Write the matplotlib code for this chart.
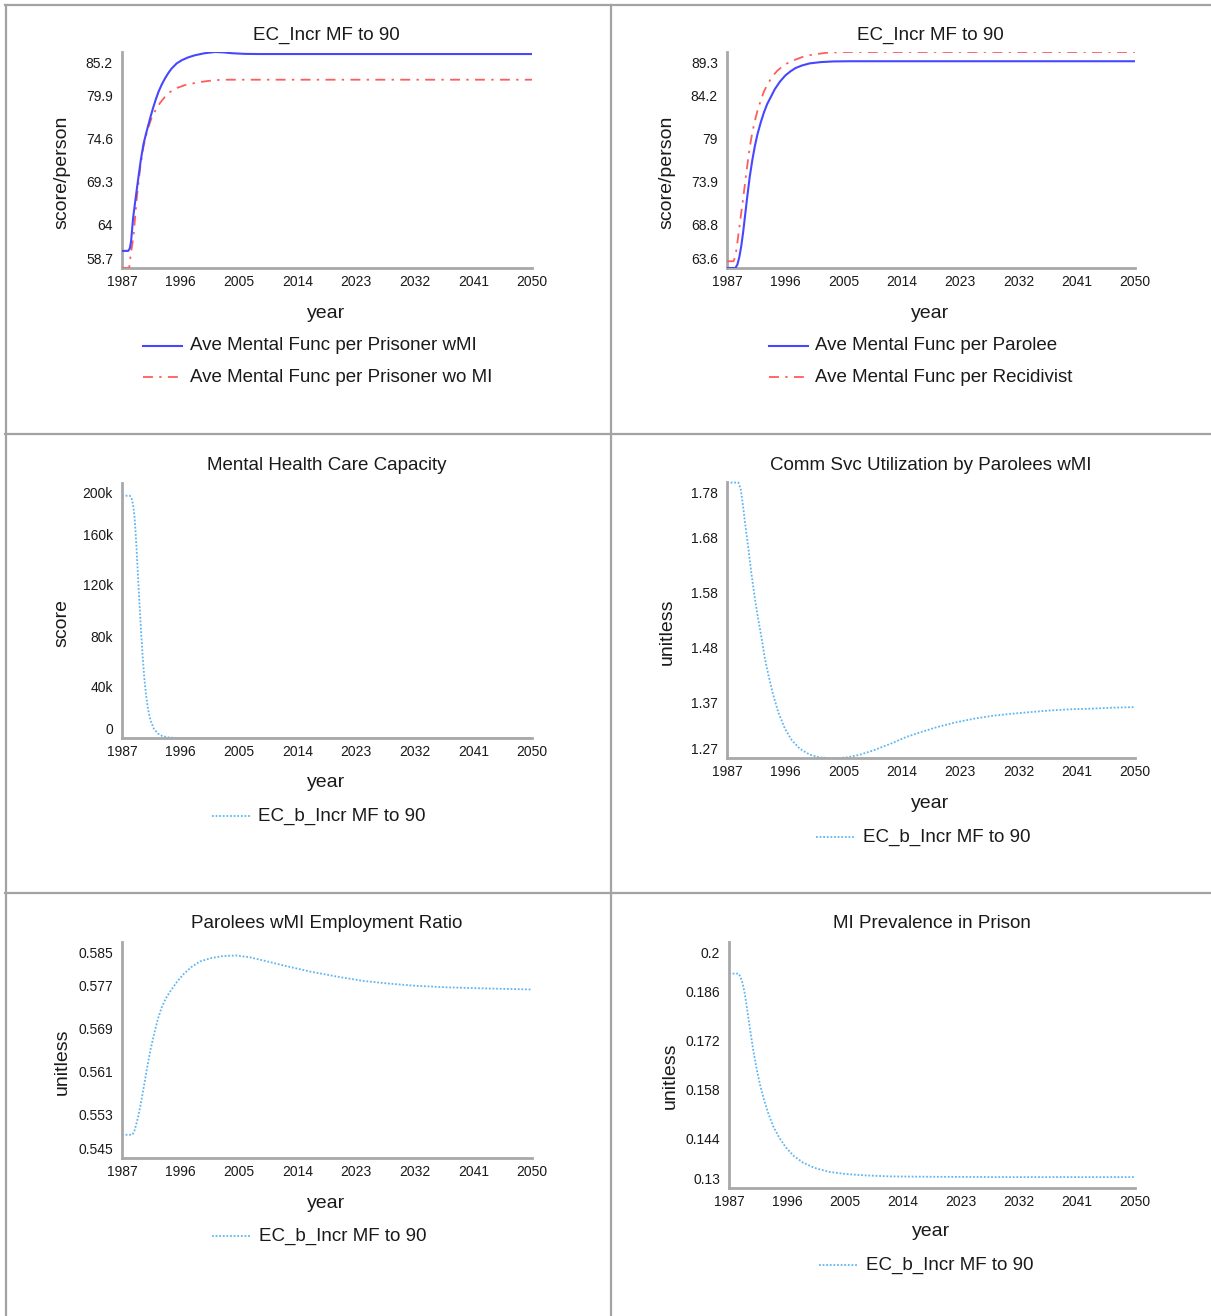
import numpy as np
import matplotlib.pyplot as plt
from matplotlib.lines import Line2D
from matplotlib.transforms import ScaledTranslation

# =============================================================================
# DADOS
# =============================================================================

anos_ticks = [1987, 1996, 2005, 2014, 2023, 2032, 2041, 2050]

# --- Painel 1: prisioneiros ---
anos_pris_wmi = [1987, 1987.95, 1988.2, 1988.4, 1988.7, 1989.1, 1989.5, 1989.9,
                 1990.3, 1990.7, 1991.0, 1991.4, 1991.8, 1992.2, 1992.6, 1993.1,
                 1993.6, 1994.1, 1994.6, 1995.4, 1996.2, 1997.2, 1998.2, 1999.7,
                 2001.3, 2002.6, 2003.9, 2005.9, 2008, 2050]
mf_pris_wmi = [60.8, 60.8, 61.1, 62.0, 64.8, 67.3, 69.7, 72.0, 73.9, 75.2,
               76.1, 77.3, 78.4, 79.4, 80.3, 81.2, 81.95, 82.6, 83.15, 83.8,
               84.2, 84.55, 84.8, 85.05, 85.2, 85.15, 85.05, 84.97, 84.95, 84.95]
anos_pris_womi = [1987, 1988.1, 1988.3, 1988.75, 1989.3, 1989.8, 1990.3, 1990.9,
                  1991.5, 1992.1, 1992.8, 1993.6, 1994.4, 1995.5, 1996.7, 1998.8,
                  2001.3, 2003, 2050]
mf_pris_womi = [58.7, 58.7, 60.1, 62.5, 67.5, 71.0, 73.6, 75.6, 77.0, 78.0,
                78.9, 79.7, 80.3, 80.8, 81.15, 81.5, 81.75, 81.8, 81.8]
yticks_pris = ["58.7", "64", "69.3", "74.6", "79.9", "85.2"]

# --- Painel 2: egressos / reincidentes ---
anos_parolee = [1987, 1988.3, 1988.6, 1988.9, 1989.2, 1989.5, 1989.8, 1990.1,
                1990.5, 1990.9, 1991.3, 1991.7, 1992.2, 1992.7, 1993.2, 1993.8,
                1994.4, 1995.2, 1996.0, 1996.8, 1997.6, 1998.6, 1999.8, 2001.5,
                2003.5, 2006, 2050]
mf_parolee = [63.6, 63.6, 64.0, 64.9, 66.2, 67.9, 69.9, 71.9, 74.4, 76.4, 78.1,
              79.5, 80.9, 82.1, 83.1, 84.0, 84.9, 85.8, 86.5, 87.0, 87.4, 87.7,
              87.95, 88.1, 88.18, 88.2, 88.2]
anos_recid = [1987, 1988.0, 1988.3, 1988.6, 1988.9, 1989.2, 1989.5, 1989.8,
              1990.1, 1990.5, 1990.9, 1991.3, 1991.7, 1992.2, 1992.7, 1993.3,
              1994.0, 1994.8, 1995.6, 1996.6, 1997.6, 1998.8, 2000.3, 2002.3,
              2004.7, 2050]
mf_recid = [64.4, 64.4, 65.0, 66.6, 68.4, 70.2, 71.9, 73.8, 75.6, 77.9, 79.7,
            81.1, 82.3, 83.5, 84.6, 85.5, 86.4, 87.1, 87.6, 88.1, 88.4, 88.75,
            89.0, 89.2, 89.3, 89.3]
yticks_parolee = ["63.6", "68.8", "73.9", "79", "84.2", "89.3"]

# --- Painel 3: capacidade de cuidados em saúde mental ---
anos_capac = [1987, 1988.2, 1988.45, 1988.7, 1988.95, 1989.2, 1989.45, 1989.7,
              1989.95, 1990.2, 1990.45, 1990.7, 1991.0, 1991.4, 1991.9, 1992.5,
              1993.2, 1994.2, 1995.5, 2050]
capacidade = [190000, 190000, 188500, 183000, 172000, 152000, 128000, 104000,
              82000, 62000, 46000, 33500, 22500, 13500, 7200, 3600, 1500, 400,
              0, 0]
yticks_capac = ["0", "40k", "80k", "120k", "160k", "200k"]

# --- Painel 4: utilização de serviços comunitários ---
anos_comm = [1987, 1988.75, 1989.1, 1989.4, 1989.77, 1990.3, 1990.8, 1991.3,
             1991.8, 1992.35, 1992.85, 1993.4, 1994.15, 1994.9, 1995.95, 1997.0,
             1998.25, 1999.8, 2001.35, 2003.4, 2005.45, 2007.5, 2009.6, 2012.6,
             2014.7, 2017, 2019.4, 2022, 2025.3, 2028, 2031.2, 2034, 2037.1,
             2040, 2043.0, 2046.5, 2050]
comm_svc = [1.779, 1.779, 1.768, 1.743, 1.706, 1.657, 1.608, 1.565, 1.528,
            1.491, 1.454, 1.423, 1.386, 1.355, 1.324, 1.303, 1.287, 1.276,
            1.271, 1.2695, 1.271, 1.276, 1.284, 1.298, 1.309, 1.318, 1.327,
            1.335, 1.343, 1.348, 1.352, 1.355, 1.358, 1.36, 1.361, 1.363, 1.364]
yticks_comm = ["1.27", "1.37", "1.48", "1.58", "1.68", "1.78"]

# --- Painel 5: taxa de emprego ---
anos_empr = [1987, 1988.6, 1988.9, 1989.2, 1989.5, 1989.8, 1990.1, 1990.5,
             1990.9, 1991.4, 1991.9, 1992.5, 1993.1, 1993.8, 1994.6, 1995.5,
             1996.5, 1997.7, 1999.0, 2000.6, 2002.5, 2004.5, 2006.5, 2009, 2012,
             2016, 2020, 2024, 2028, 2032, 2037, 2043, 2050]
emprego = [0.5493, 0.5493, 0.5500, 0.5513, 0.5528, 0.5545, 0.5565, 0.5592,
           0.5620, 0.5652, 0.5678, 0.5707, 0.5729, 0.5747, 0.5762, 0.5777,
           0.5791, 0.5804, 0.5814, 0.5820, 0.5824, 0.5825, 0.5822, 0.5815,
           0.5806, 0.5795, 0.5786, 0.5778, 0.5773, 0.5769, 0.5766, 0.5764,
           0.5762]
yticks_empr = ["0.545", "0.553", "0.561", "0.569", "0.577", "0.585"]

# --- Painel 6: prevalência de transtorno mental na prisão ---
anos_prev = [1987, 1988.5, 1988.8, 1989.1, 1989.4, 1989.7, 1990.0, 1990.4,
             1990.8, 1991.3, 1991.8, 1992.4, 1993.1, 1993.9, 1994.8, 1995.8,
             1997.0, 1998.5, 2000.3, 2002.5, 2005, 2008, 2012, 2018, 2030, 2050]
prevalencia = [0.191, 0.191, 0.1900, 0.1883, 0.1858, 0.1823, 0.1785, 0.1735,
               0.1688, 0.1638, 0.1595, 0.1553, 0.1512, 0.1474, 0.1443, 0.1416,
               0.1392, 0.1372, 0.1357, 0.1346, 0.1340, 0.1336, 0.1333, 0.1332,
               0.1331, 0.1331]
yticks_prev = ["0.13", "0.144", "0.158", "0.172", "0.186", "0.2"]

# =============================================================================
# ESTILOS
# =============================================================================

W, H = 1211, 1316
COR_GRADE = "#a3a3a3"
COR_TEXTO = "#1a1a1a"
EST_AZUL = dict(color="#4747ff", lw=1.5, ls="-")
EST_VERM = dict(color="#ff5c5c", lw=1.3, dashes=(5.5, 3.5, 1.3, 3.5))
EST_PONT = dict(color="#5fb6f2", lw=1.3, ls=(0, (1, 1)))

plt.rcParams["font.family"] = ["Liberation Sans", "DejaVu Sans"]

fig = plt.figure(figsize=(W / 100, H / 100), dpi=100)


def fx(x):
    return x / W


def fy(y):
    return 1 - y / H


def linha_fig(x0, y0, x1, y1, **kw):
    fig.add_artist(Line2D([fx(x0), fx(x1)], [fy(y0), fy(y1)], **kw))


def painel(caixa, ylim, yticklabels, titulo, ylabel, pos_titulo, pos_year,
           pos_ylabel):
    l, t, r, b = caixa
    ax = fig.add_axes([fx(l), fy(b), (r - l) / W, (b - t) / H])
    ax.set_xlim(1987, 2050)
    ax.set_ylim(*ylim)
    ax.set_xticks(anos_ticks)
    ax.set_yticks(np.linspace(ylim[0], ylim[1], 6))
    ax.set_yticklabels(yticklabels)
    ax.tick_params(length=0, labelsize=10, colors=COR_TEXTO)
    ax.tick_params(axis="y", pad=6.5)
    ax.tick_params(axis="x", pad=5)
    for lado in ["top", "right"]:
        ax.spines[lado].set_visible(False)
    for lado in ["left", "bottom"]:
        ax.spines[lado].set_color("#a8a8a8")
        ax.spines[lado].set_linewidth(2)
    # rótulos extremos deslocados para dentro (estilo Vensim)
    rotulos = ax.get_yticklabels()
    desl = 10 / 100
    rotulos[0].set_transform(rotulos[0].get_transform()
                             + ScaledTranslation(0, desl, fig.dpi_scale_trans))
    rotulos[-1].set_transform(rotulos[-1].get_transform()
                              + ScaledTranslation(0, -desl, fig.dpi_scale_trans))
    fig.text(fx(pos_titulo[0]), fy(pos_titulo[1]), titulo, fontsize=13.5,
             ha="center", va="center", color=COR_TEXTO)
    fig.text(fx(pos_year[0]), fy(pos_year[1]), "year", fontsize=14,
             ha="center", va="center", color=COR_TEXTO)
    fig.text(fx(pos_ylabel[0]), fy(pos_ylabel[1]), ylabel, fontsize=14,
             ha="center", va="center", rotation=90, color=COR_TEXTO)
    return ax


def legenda(itens, x, y, x_texto, dy=31):
    for i, (rotulo, estilo) in enumerate(itens):
        yy = y + i * dy
        linha_fig(x, yy, x + 39, yy, **estilo)
        fig.text(fx(x_texto), fy(yy), rotulo, fontsize=13.5, ha="left",
                 va="center", color=COR_TEXTO)


# =============================================================================
# MOLDURA (tabela)
# =============================================================================

linha_fig(5, 5, 1211, 5, color=COR_GRADE, lw=1.6)
linha_fig(5.5, 5, 5.5, 1316, color=COR_GRADE, lw=1.6)
linha_fig(611, 5, 611, 1316, color=COR_GRADE, lw=1.6)
linha_fig(5, 434, 1211, 434, color=COR_GRADE, lw=1.6)
linha_fig(5, 893, 1211, 893, color=COR_GRADE, lw=1.6)

# =============================================================================
# PAINÉIS
# =============================================================================

ax1 = painel((122, 52, 532, 268), (58.7, 85.2), yticks_pris,
             "EC_Incr MF to 90", "score/person", (326, 35), (326, 313), (62, 172))
ax1.plot(anos_pris_womi, mf_pris_womi, **EST_VERM, zorder=3)
ax1.plot(anos_pris_wmi, mf_pris_wmi, **EST_AZUL, zorder=4)
legenda([("Ave Mental Func per Prisoner wMI", EST_AZUL),
         ("Ave Mental Func per Prisoner wo MI", EST_VERM)], 143, 346, 190)

ax2 = painel((727, 52, 1135, 268), (63.6, 89.3), yticks_parolee,
             "EC_Incr MF to 90", "score/person", (930, 35), (930, 313), (667, 172))
ax2.plot(anos_recid, mf_recid, **EST_VERM, zorder=3)
ax2.plot(anos_parolee, mf_parolee, **EST_AZUL, zorder=4)
legenda([("Ave Mental Func per Parolee", EST_AZUL),
         ("Ave Mental Func per Recidivist", EST_VERM)], 769, 346, 815)

ax3 = painel((122, 483, 532, 738), (0, 200000), yticks_capac,
             "Mental Health Care Capacity", "score", (327, 465), (326, 783), (62, 623))
ax3.plot(anos_capac, capacidade, **EST_PONT)
legenda([("EC_b_Incr MF to 90", EST_PONT)], 212, 816, 258)

ax4 = painel((727, 482, 1135, 758), (1.27, 1.78), yticks_comm,
             "Comm Svc Utilization by Parolees wMI", "unitless", (931, 465),
             (930, 803), (667, 632))
ax4.plot(anos_comm, comm_svc, **EST_PONT, clip_on=False)
legenda([("EC_b_Incr MF to 90", EST_PONT)], 816, 837, 863)

ax5 = painel((122, 942, 532, 1158), (0.545, 0.585), yticks_empr,
             "Parolees wMI Employment Ratio", "unitless", (327, 924),
             (326, 1203), (62, 1062))
ax5.plot(anos_empr, emprego, **EST_PONT)
legenda([("EC_b_Incr MF to 90", EST_PONT)], 212, 1236, 259)

ax6 = painel((729, 942, 1135, 1188), (0.13, 0.2), yticks_prev,
             "MI Prevalence in Prison", "unitless", (932, 924), (931, 1232),
             (670, 1076))
ax6.plot(anos_prev, prevalencia, **EST_PONT)
legenda([("EC_b_Incr MF to 90", EST_PONT)], 819, 1265, 866)

fig.savefig("out.png", dpi=100, facecolor="white")
